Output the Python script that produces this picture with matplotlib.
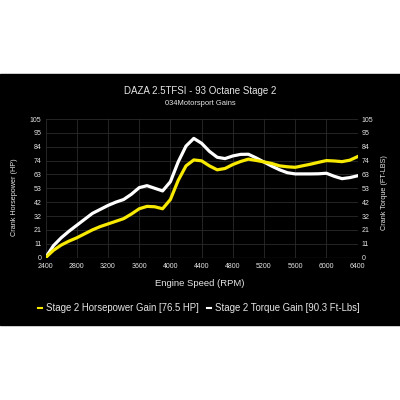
import matplotlib
matplotlib.use('Agg')
import matplotlib.pyplot as plt
from matplotlib.patches import Rectangle
from matplotlib.lines import Line2D

plt.rcParams['font.family'] = ['Liberation Sans', 'DejaVu Sans']

# data (gain vs stock)
rpm = list(range(2400, 6500, 100))
hp_gain = [0, 5.5, 9.5, 12.5, 15, 18, 21, 23.5, 25.5, 27.5, 29.5, 33, 37, 38.8, 38.5, 37,
           44, 58.5, 69.5, 74, 73.3, 69.5, 66.5, 67.5, 70.5, 72.8, 74.6, 73.6, 72.5, 71.3,
           69.5, 68.8, 68.4, 69.6, 70.8, 72.2, 73.5, 73.2, 72.7, 73.8, 76.5]
tq_gain = [0, 9, 15, 20, 24.5, 29, 33.5, 36.5, 39.5, 42, 44, 48, 53, 54.5, 52.5, 50.5,
           57.5, 72.5, 84.5, 90.3, 86.6, 80.5, 76, 75, 77, 78.2, 78.3, 75.5, 72.4, 69.3,
           66.5, 64.3, 63.4, 63.4, 63.4, 63.5, 63.9, 61.6, 59.8, 60.6, 62]
x_ticks = list(range(2400, 6401, 400))
y_ticks = [0, 10.5, 21, 31.5, 42, 52.5, 63, 73.5, 84, 94.5, 105]
y_labels = ['0', '11', '21', '32', '42', '53', '63', '74', '84', '95', '105']

yellow = '#f7e900'
txt = '#e6e6e6'

fig = plt.figure(figsize=(4, 4), dpi=100)
fig.patch.set_facecolor('white')
fig.patches.append(Rectangle((0, 0.1875), 1, 0.6275, transform=fig.transFigure,
                             color='black', zorder=-10))

ax = fig.add_axes([0.114, 0.356, 0.780, 0.3465])
ax.set_zorder(2)
ax.set_facecolor('black')
ax.plot(rpm, tq_gain, color='white', lw=2.3, zorder=3, solid_joinstyle='round')
ax.plot(rpm, hp_gain, color=yellow, lw=2.3, zorder=4, solid_joinstyle='round')

ax.set_xlim(2400, 6400)
ax.set_ylim(0, 105)
ax.set_xticks(x_ticks)
ax.set_yticks(y_ticks)
ax.set_yticklabels(y_labels)
ax.tick_params(colors=txt, labelsize=5, length=0, pad=3)
ax.tick_params(axis='x', pad=4)
ax.grid(True, color='#2b2b2b', lw=0.6)
for s in ax.spines.values():
    s.set_visible(False)
ax.axhline(0, color='#777777', lw=0.8, zorder=2)

ax2 = ax.twinx()
ax2.set_zorder(3)
ax2.patch.set_visible(False)
ax2.set_ylim(0, 105)
ax2.set_yticks(y_ticks)
ax2.set_yticklabels(y_labels)
ax2.tick_params(colors=txt, labelsize=5, length=0, pad=3)
for s in ax2.spines.values():
    s.set_visible(False)

fig.text(0.5, 0.773, 'DAZA 2.5TFSI - 93 Octane Stage 2', color=txt, fontsize=7,
         ha='center', va='center')
fig.text(0.5, 0.742, '034Motorsport Gains', color=txt, fontsize=5.4, ha='center', va='center')
fig.text(0.5, 0.29, 'Engine Speed (RPM)', color=txt, fontsize=6.8, ha='center', va='center')
fig.text(0.0375, 0.508, 'Crank Horsepower (HP)', color=txt, fontsize=5.2, rotation=90,
         ha='center', va='center')
fig.text(0.9625, 0.5175, 'Crank Torque (FT-LBS)', color=txt, fontsize=5.2, rotation=90,
         ha='center', va='center')

handles = [Line2D([], [], color=yellow, lw=1.5), Line2D([], [], color='white', lw=1.5)]
fig.legend(handles, ['Stage 2 Horsepower Gain [76.5 HP]', 'Stage 2 Torque Gain [90.3 Ft-Lbs]'],
           loc='center', bbox_to_anchor=(0.497, 0.23), ncol=2, frameon=False,
           fontsize=6.9, labelcolor=txt, handlelength=0.45, handletextpad=0.4,
           columnspacing=0.9)

fig.savefig('out.png', dpi=100, facecolor=fig.get_facecolor())
